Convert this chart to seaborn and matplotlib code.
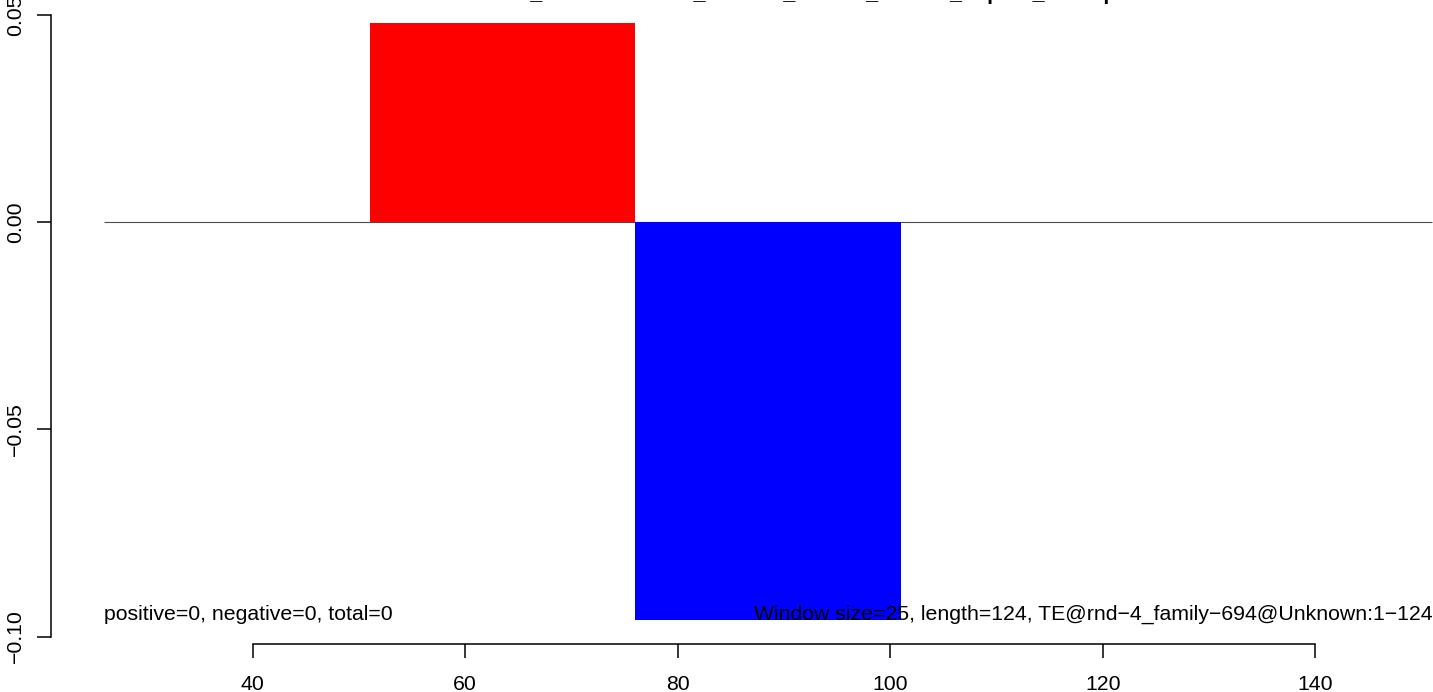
import matplotlib
matplotlib.use("Agg")
import matplotlib.pyplot as plt
import seaborn as sns
import numpy as np
import pandas as pd

# ---- data ----
window_size = 25
window_starts = [26, 51, 76, 101, 126]
window_values = [0.0, 0.048, -0.096, 0.0, 0.0]
x_ticks = [40, 60, 80, 100, 120, 140]
y_ticks = [-0.10, -0.05, 0.00, 0.05]
y_tick_labels = ["\u22120.10", "\u22120.05", "0.00", "0.05"]
left_note = "positive=0, negative=0, total=0"
right_note = ("Window size=25, length=124, "
              "TE@rnd\u22124_family\u2212694@Unknown:1\u2212124")
title_text = "Windowed_accumulations_strands_results_normal_depths_shrimp"

sns.set_style("ticks")
plt.rcParams["font.family"] = ["Liberation Sans", "DejaVu Sans"]

FS = 15.3

centers = [s + window_size / 2 for s in window_starts]
signs = ["pos" if v > 0 else ("neg" if v < 0 else "zero") for v in window_values]
df = pd.DataFrame({"x": centers, "value": window_values, "sign": signs})

fig = plt.figure(figsize=(14.33, 6.92), dpi=100)
ax = fig.add_axes([0.03538, 0.06936, 1.0012, 0.93184])

# zero baseline spanning the windows
ax.hlines(0, min(window_starts), max(window_starts) + window_size,
          color="#4d4d4d", linewidth=0.8, zorder=1)

sns.barplot(data=df, x="x", y="value", hue="sign",
            palette={"pos": "#ff0000", "neg": "#0000ff", "zero": "#ffffff"},
            native_scale=True, dodge=False, width=1.0, errorbar=None,
            saturation=1, linewidth=0, legend=False, ax=ax, zorder=2)

ax.set_xlim(21, 156)
ax.set_ylim(-0.1018, 0.0538)

ax.set_xticks(x_ticks)
ax.set_xticklabels([str(t) for t in x_ticks])
ax.set_yticks(y_ticks)
ax.set_yticklabels(y_tick_labels, rotation=90, va="center")

for s in ["top", "right"]:
    ax.spines[s].set_visible(False)
ax.spines["bottom"].set_bounds(40, 140)
ax.spines["left"].set_bounds(-0.10, 0.05)
for s in ["bottom", "left"]:
    ax.spines[s].set_linewidth(1.1)
    ax.spines[s].set_color("black")

ax.tick_params(axis="both", length=10, width=1.1, color="black",
               labelsize=FS, labelcolor="black")
ax.tick_params(axis="x", pad=12)
ax.tick_params(axis="y", pad=8.5)
ax.set_xlabel("")
ax.set_ylabel("")
ax.grid(False)

ymin = min(window_values)
ax.text(min(window_starts), ymin, left_note, ha="left", va="baseline",
        fontsize=FS, color="black", zorder=5)
ax.text(max(window_starts) + window_size, ymin, right_note, ha="right",
        va="baseline", fontsize=FS, color="black", zorder=5,
        clip_on=False)

fig.text(0.538, 1.0018, title_text, ha="center", va="baseline",
         fontsize=15.5, fontweight="bold", color="black")

fig.savefig("out.png", dpi=100)
